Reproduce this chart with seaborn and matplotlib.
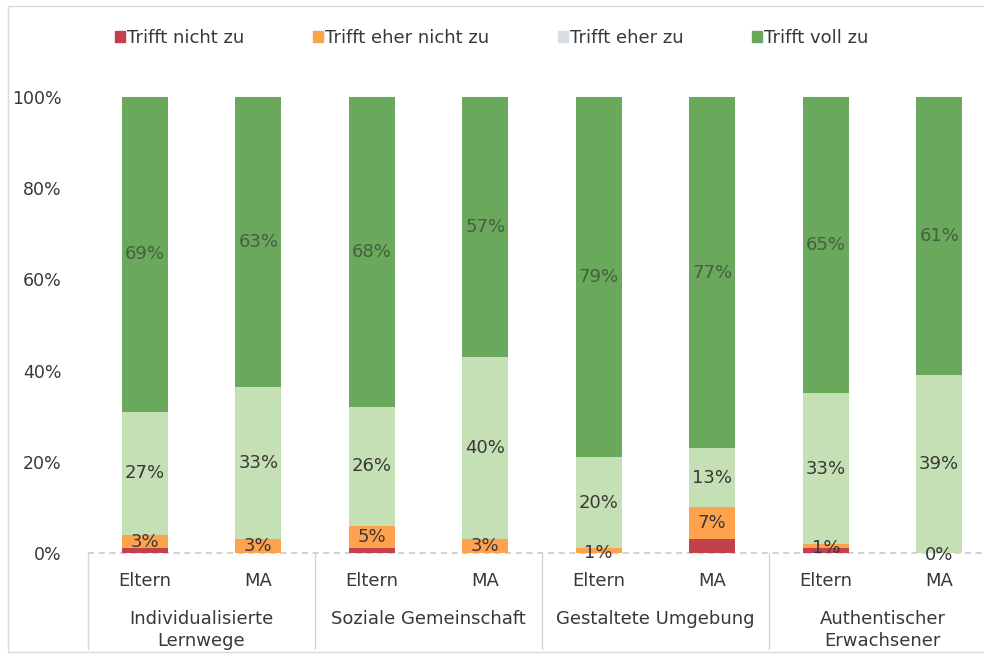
import matplotlib
matplotlib.use("Agg")
import matplotlib.pyplot as plt
import matplotlib.patches as mpatches
import matplotlib.transforms as mtransforms
import numpy as np
import pandas as pd
import seaborn as sns

sns.set_style("white")
plt.rcParams['font.family'] = ['DejaVu Sans']

groups = ["Individualisierte\nLernwege", "Soziale Gemeinschaft",
          "Gestaltete Umgebung", "Authentischer\nErwachsener"]
respondents = ["Eltern", "MA"]
series = ["Trifft nicht zu", "Trifft eher nicht zu", "Trifft eher zu", "Trifft voll zu"]

# one value per bar, bar order: IL Eltern, IL MA, SG Eltern, SG MA, GU Eltern, GU MA, AE Eltern, AE MA
nicht_zu = [1, 0, 1, 0, 0, 3, 1, 0]
eher_nicht_zu = [3, 3, 5, 3, 1, 7, 1, 0]
eher_zu = [27, 33, 26, 40, 20, 13, 33, 39]
voll_zu = [69, 63, 68, 57, 79, 77, 65, 61]

bar_colors = ["#c3414b", "#ffa24d", "#c6e0b5", "#6aa85c"]
legend_colors = ["#c3414b", "#ffa24d", "#d8dde4", "#6aa85c"]

bars = [f"{g}|{r}" for g in groups for r in respondents]
df = pd.DataFrame({"bar": bars, series[0]: nicht_zu, series[1]: eher_nicht_zu,
                   series[2]: eher_zu, series[3]: voll_zu})
# 100% stacked: normalise each bar to its total
share = df[series].div(df[series].sum(axis=1), axis=0) * 100
cum = share.cumsum(axis=1)

fig = plt.figure(figsize=(9.84, 6.58), dpi=100)
ax = fig.add_axes([88 / 984, 105 / 658, 908 / 984, 456 / 658])

# stacked bars: draw the cumulative totals from the top down
for s, col in reversed(list(zip(series, bar_colors))):
    sns.barplot(x=df["bar"], y=cum[s], color=col, width=0.405, ax=ax,
                saturation=1, order=bars, edgecolor="none")

ax.axhline(0, color="#bfc6ce", lw=1.1, ls=(0, (4, 3)), zorder=0.5, clip_on=False)

# data labels (no labels on the red segments)
for i in range(len(bars)):
    base = 0
    for j, s in enumerate(series):
        v = share[s][i]
        if j > 0:
            c = "#383838" if j < 3 else "#3a4639"
            y = base + v / 2
            if j == 1 and v <= 1.5:
                y = base + v / 2 - 0.5
            ax.text(i, y, f"{df[s][i]}%", ha="center", va="center", fontsize=13,
                    color=c, alpha=1 if j < 3 else 0.75)
        base += v

ax.set_ylim(0, 100)
ax.set_xlim(-0.5, 7.5)
ax.set_yticks(np.arange(0, 101, 20))
ax.set_yticklabels([f"{t}%" for t in range(0, 101, 20)], fontsize=12.5, color="#383838")
ax.tick_params(axis="y", length=0, pad=19)
ax.set_xticks(range(len(bars)))
ax.set_xticklabels([b.split("|")[1] for b in bars], fontsize=13, color="#383838")
ax.tick_params(axis="x", length=0, pad=14)
ax.set_xlabel("")
ax.set_ylabel("")
for sp in ax.spines.values():
    sp.set_visible(False)

# group labels and separators
trans = mtransforms.blended_transform_factory(ax.transData, ax.transAxes)
for k, g in enumerate(groups):
    ax.text(2 * k + 0.5, -0.125, g, transform=trans, ha="center", va="top",
            fontsize=13, color="#383838", linespacing=1.25)
for xs in [-0.5, 1.5, 3.5, 5.5, 7.5]:
    ax.plot([xs, xs], [0, -0.21], transform=trans, color="#d0d6dd", lw=1, clip_on=False)

handles = [mpatches.Patch(color=c, label=s) for s, c in zip(series, legend_colors)]
fig.legend(handles=handles, loc="center", bbox_to_anchor=(492 / 984, 1 - 38 / 658), ncol=4,
           frameon=False, fontsize=13, handlelength=0.55, handleheight=0.55,
           handletextpad=0.12, columnspacing=3.8, labelcolor="#383838")

fig.patches.append(mpatches.Rectangle((8 / 984, 6 / 658), 1.0, 646 / 658, transform=fig.transFigure,
                                      fill=False, edgecolor="#d6dbe0", lw=1))

fig.savefig("out.png", dpi=100)
